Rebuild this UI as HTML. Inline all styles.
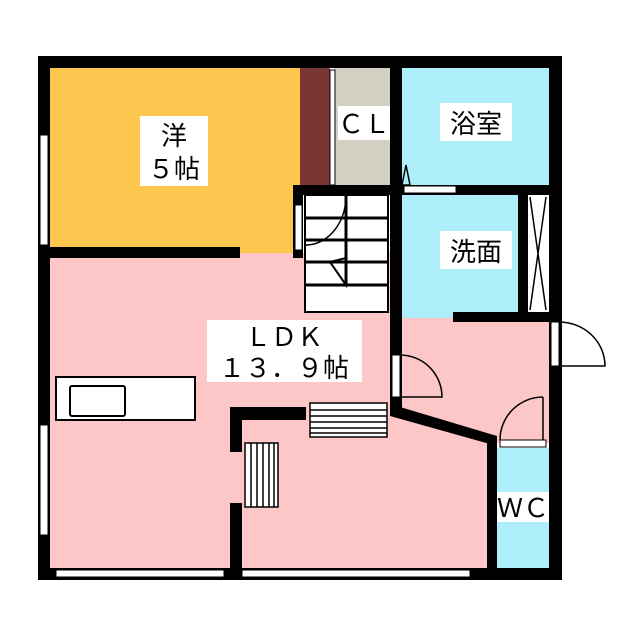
<!DOCTYPE html><html><head><style>body{margin:0;background:#fff}svg{display:block}text{font-family:"Liberation Sans","Noto Sans CJK JP",sans-serif;font-size:26px;fill:#000}</style></head><body>
<svg width="640" height="640" viewBox="0 0 640 640">
<rect x="50" y="68" width="250" height="185" fill="#fcc64f"/>
<rect x="300" y="68" width="30" height="117" fill="#7a3535"/>
<rect x="334" y="68" width="56" height="117" fill="#d4d0c4"/>
<rect x="402" y="68" width="147" height="117" fill="#aeeefb"/>
<rect x="402" y="195" width="120" height="123" fill="#aeeefb"/>
<rect x="50" y="253" width="340" height="315" fill="#fdc7c7"/>
<rect x="402" y="318" width="147" height="125" fill="#fdc7c7"/>
<polygon points="390,410 495,440 495,568 240,568 240,410" fill="#fdc7c7"/>
<rect x="497" y="448" width="52" height="120" fill="#aeeefb"/>
<rect x="528" y="195" width="21" height="117" fill="#fff"/>
<path d="M530 197 L546 310 M546 197 L530 310" stroke="#000" stroke-width="1.5"/>
<rect x="305" y="195" width="83" height="117" fill="#fff" stroke="#000" stroke-width="2"/>
<path d="M305 218H388M305 240H388M305 262H388M305 285H388M346 195V285" stroke="#000" stroke-width="3"/>
<path d="M330 262 L346 258 L346 285 Z" fill="none" stroke="#000" stroke-width="2"/>
<path d="M305 245 A40 50 0 0 0 346 198" fill="none" stroke="#000" stroke-width="1.5"/>
<g fill="#000">
<rect x="38" y="56" width="524" height="12"/>
<rect x="38" y="56" width="12" height="524"/>
<rect x="38" y="568" width="524" height="12"/>
<rect x="549" y="56" width="13" height="524"/>
<rect x="390" y="56" width="12" height="360"/>
<rect x="293" y="185" width="269" height="10"/>
<rect x="293" y="185" width="10" height="73"/>
<rect x="38" y="247" width="202" height="11"/>
<rect x="518" y="195" width="10" height="125"/>
<rect x="453" y="312" width="109" height="10"/>
<polygon points="390,404 497,436 497,446 390,416"/>
<rect x="487" y="438" width="10" height="142"/>
<rect x="230" y="407" width="76" height="13"/>
<rect x="230" y="407" width="12" height="45"/>
<rect x="230" y="503" width="12" height="77"/>
</g>
<g fill="#fff" stroke="#000" stroke-width="1">
<rect x="330" y="70" width="5" height="115"/>
<rect x="404" y="186" width="52" height="7"/>
<rect x="500" y="440" width="46" height="7"/>
<rect x="551" y="322" width="8" height="44"/>
<rect x="392" y="355" width="8" height="42"/>
<rect x="295" y="205" width="7" height="45"/>
<rect x="40" y="135" width="8" height="110"/>
<rect x="40" y="425" width="8" height="110"/>
<rect x="56" y="570" width="168" height="7"/>
<rect x="242" y="570" width="228" height="7"/>
</g>
<g fill="none" stroke="#000" stroke-width="1.5">
<path d="M559 322 A46 44 0 0 1 605 366 L559 366"/>
<path d="M400 355 A42 42 0 0 1 442 397 L400 397"/>
<path d="M543 397 V440 M543 397 A43 43 0 0 0 500 440"/>
<path d="M406 165 L410 185 L402 185 Z"/>
</g>
<rect x="56" y="377" width="139" height="43" fill="#fff" stroke="#000" stroke-width="2"/>
<rect x="70" y="386" width="55" height="30" fill="#fff" stroke="#000" stroke-width="2" rx="2"/>
<rect x="310" y="403" width="77" height="34" fill="#fff" stroke="#000" stroke-width="1.5"/>
<path d="M310 410H387M310 416H387M310 422H387M310 428H387M310 433H387" stroke="#000" stroke-width="1.5"/>
<rect x="245" y="443" width="33" height="64" fill="#fff" stroke="#000" stroke-width="1.5"/>
<path d="M251 443V507M257 443V507M263 443V507M269 443V507M274 443V507" stroke="#000" stroke-width="1.5"/>
<rect x="140" y="116" width="68" height="70" fill="#fff"/>
<text x="174" y="145" text-anchor="middle">洋</text>
<text x="174" y="178" text-anchor="middle">５帖</text>
<rect x="338" y="106" width="52" height="34" fill="#fff"/>
<text x="364" y="133" text-anchor="middle">ＣＬ</text>
<rect x="440" y="103" width="72" height="38" fill="#fff"/>
<text x="476" y="133" text-anchor="middle">浴室</text>
<rect x="440" y="231" width="72" height="38" fill="#fff"/>
<text x="476" y="261" text-anchor="middle">洗面</text>
<rect x="207" y="320" width="155" height="62" fill="#fff"/>
<text x="284" y="346" text-anchor="middle">ＬＤＫ</text>
<text x="284" y="377" text-anchor="middle">１３．９帖</text>
<rect x="497" y="492" width="52" height="30" fill="#fff"/>
<text x="523" y="517" text-anchor="middle">ＷＣ</text>
</svg></body></html>
